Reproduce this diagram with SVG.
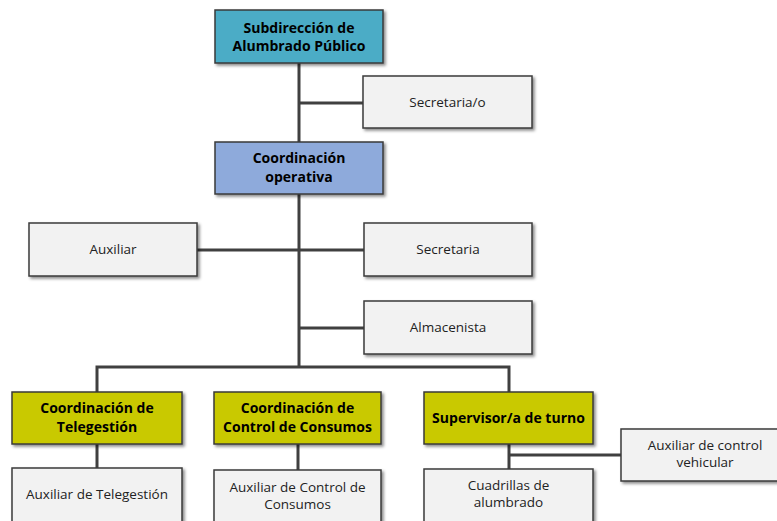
<svg xmlns="http://www.w3.org/2000/svg" width="777" height="521" viewBox="0 0 777 521">
<style>
.box{stroke:#3a3a3a;stroke-width:1.5;filter:url(#sh)}
.gray{fill:#f2f2f2}
.teal{fill:#4bacc6}
.blue{fill:#8eaadb}
.olive{fill:#c9c900}
.t{font-family:"Open Sans","Noto Sans",sans-serif;font-size:13.5px;fill:#222;text-anchor:middle}
.b{font-weight:bold;fill:#000;font-size:14px}
.ln{stroke:#404040;stroke-width:3;fill:none}
</style>
<defs>
<filter id="sh" x="-10%" y="-10%" width="130%" height="140%">
<feDropShadow dx="2" dy="2" stdDeviation="1.5" flood-color="#000" flood-opacity="0.45"/>
</filter>
</defs>
<g id="connectors">
<path class="ln" d="M299 63V367M299 103H363M197 250H364M299 328H364M97 392V367H509V392M97 444V468M298 444V470M509 444V469M509 455H621"/>
</g>
<g id="subdireccion"><rect class="box teal" x="215" y="10" width="168" height="53"/><text class="t b" x="299" y="33">Subdirección de</text><text class="t b" x="299" y="51">Alumbrado Público</text></g>
<g id="secretaria_o"><rect class="box gray" x="363" y="76" width="169" height="52"/><text class="t" x="447.5" y="107">Secretaria/o</text></g>
<g id="coord_operativa"><rect class="box blue" x="215" y="142" width="168" height="52"/><text class="t b" x="299" y="163">Coordinación</text><text class="t b" x="299" y="182">operativa</text></g>
<g id="auxiliar"><rect class="box gray" x="29" y="223" width="168" height="53"/><text class="t" x="113" y="254">Auxiliar</text></g>
<g id="secretaria"><rect class="box gray" x="364" y="223" width="168" height="53"/><text class="t" x="448" y="254">Secretaria</text></g>
<g id="almacenista"><rect class="box gray" x="364" y="301" width="168" height="53"/><text class="t" x="448" y="332">Almacenista</text></g>
<g id="coord_telegestion"><rect class="box olive" x="12" y="392" width="170" height="52"/><text class="t b" x="97" y="413">Coordinación de</text><text class="t b" x="97" y="432">Telegestión</text></g>
<g id="coord_control"><rect class="box olive" x="214" y="392" width="167" height="52"/><text class="t b" x="297.5" y="413">Coordinación de</text><text class="t b" x="297.5" y="432">Control de Consumos</text></g>
<g id="supervisor"><rect class="box olive" x="424" y="392" width="169" height="52"/><text class="t b" x="508.5" y="423">Supervisor/a de turno</text></g>
<g id="aux_telegestion"><rect class="box gray" x="12" y="468" width="170" height="60"/><text class="t" x="97" y="499">Auxiliar de Telegestión</text></g>
<g id="aux_control"><rect class="box gray" x="214" y="470" width="167" height="58"/><text class="t" x="297.5" y="492">Auxiliar de Control de</text><text class="t" x="297.5" y="509">Consumos</text></g>
<g id="aux_vehicular"><rect class="box gray" x="621" y="429" width="160" height="52"/><text class="t" x="705" y="450">Auxiliar de control</text><text class="t" x="705" y="467">vehicular</text></g>
<g id="cuadrillas"><rect class="box gray" x="424" y="469" width="169" height="59"/><text class="t" x="508.5" y="490">Cuadrillas de</text><text class="t" x="508.5" y="507">alumbrado</text></g>
</svg>
